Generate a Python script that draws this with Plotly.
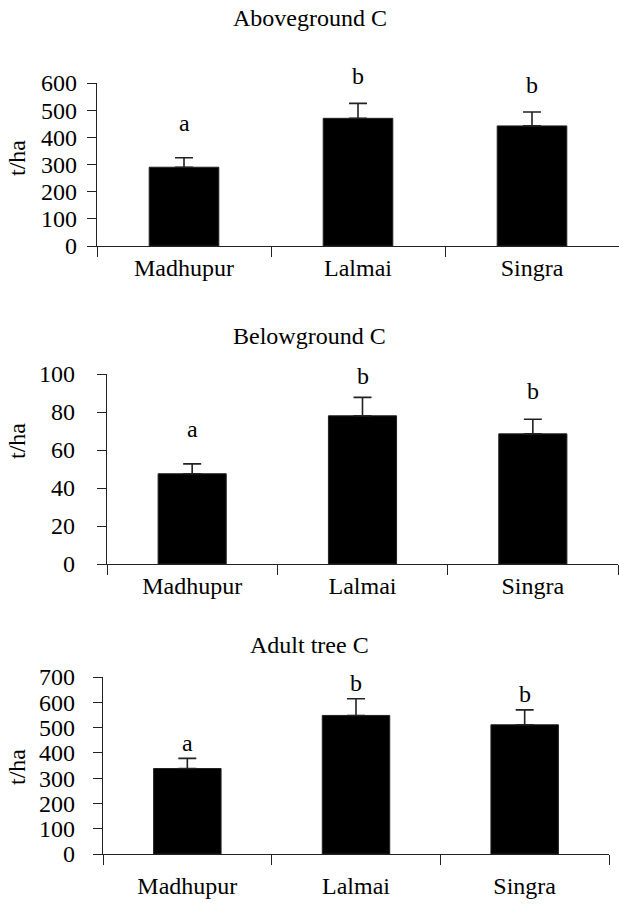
import plotly.graph_objects as go

# ---- data ----
sites = ["Madhupur", "Lalmai", "Singra"]

titles = ["Aboveground C", "Belowground C", "Adult tree C"]

above_mean = [290, 470, 442]
above_err = [35, 55, 51]
above_letters = ["a", "b", "b"]

below_mean = [47.5, 78, 68.5]
below_err = [5.2, 9.7, 7.7]
below_letters = ["a", "b", "b"]

adult_mean = [338, 548, 511]
adult_err = [40, 66, 59]
adult_letters = ["a", "b", "b"]

y_ranges = [[0, 600], [0, 100], [0, 700]]
y_dticks = [100, 20, 100]
y_label = "t/ha"

# ---- layout geometry (pixels) ----
W, H = 619, 911
FONT = "Liberation Serif"
FS = 24

panels = [
    dict(mean=above_mean, err=above_err, letters=above_letters,
         x0=97, x1=619, ybot=246, ytop=83, title_y=18, ytitle_y=158,
         gaps=[26, 18, 18], ystand=5, xstand=0),
    dict(mean=below_mean, err=below_err, letters=below_letters,
         x0=107, x1=618, ybot=564, ytop=374, title_y=336, ytitle_y=441,
         gaps=[26, 12, 19], ystand=17, xstand=0),
    dict(mean=adult_mean, err=adult_err, letters=adult_letters,
         x0=103, x1=609, ybot=854, ytop=677, title_y=645, ytitle_y=767,
         gaps=[6, 7, 7], ystand=13, xstand=10),
]

fig = go.Figure()
annotations = []
layout = {}

for i, p in enumerate(panels):
    n = "" if i == 0 else str(i + 1)
    xa, ya = "x" + n, "y" + n
    fig.add_trace(go.Bar(
        x=sites, y=p["mean"], xaxis=xa, yaxis=ya, width=0.4,
        marker=dict(color="black", line=dict(color="#222", width=1)),
        error_y=dict(type="data", array=p["err"], arrayminus=[0] * len(sites),
                     symmetric=False, color="#222", thickness=1.6, width=9),
        showlegend=False, hoverinfo="skip",
    ))
    layout["xaxis" + n] = dict(
        domain=[p["x0"] / W, min(p["x1"] / W, 1.0)], anchor=ya,
        type="category", range=[-0.5, 2.5], tickson="boundaries",
        ticks="outside", ticklen=10, tickwidth=1.3, tickcolor="#222",
        showline=True, linecolor="#222", linewidth=1.3, showgrid=False,
        zeroline=False, ticklabelstandoff=p["xstand"], automargin=False,
        tickfont=dict(family=FONT, size=FS, color="black"),
    )
    layout["yaxis" + n] = dict(
        domain=[(H - p["ybot"]) / H, (H - p["ytop"]) / H], anchor=xa,
        range=y_ranges[i], dtick=y_dticks[i], ticks="outside", ticklen=9,
        tickwidth=1.3, tickcolor="#222", showline=True, linecolor="#222",
        linewidth=1.3, showgrid=False, zeroline=False, automargin=False,
        ticklabelstandoff=p["ystand"],
        tickfont=dict(family=FONT, size=FS, color="black"),
    )
    annotations.append(dict(
        text=titles[i], xref="paper", yref="paper", x=309.5 / W,
        y=(H - p["title_y"]) / H, xanchor="center", yanchor="middle",
        showarrow=False, font=dict(family=FONT, size=FS, color="black")))
    annotations.append(dict(
        text=y_label, xref="paper", yref="paper", x=17 / W,
        y=(H - p["ytitle_y"]) / H, xanchor="center", yanchor="middle",
        textangle=-90, showarrow=False,
        font=dict(family=FONT, size=FS, color="black")))
    for j, s in enumerate(sites):
        annotations.append(dict(
            text=p["letters"][j], x=s, y=p["mean"][j] + p["err"][j],
            xref=xa, yref=ya, xanchor="center", yanchor="bottom",
            yshift=p["gaps"][j] - 6, showarrow=False,
            font=dict(family=FONT, size=FS, color="black")))

fig.update_layout(
    template="none",
    width=W, height=H, margin=dict(l=0, r=0, t=0, b=0, autoexpand=False),
    paper_bgcolor="white", plot_bgcolor="white",
    font=dict(family=FONT, size=FS, color="black"),
    annotations=annotations, **layout,
)

fig.write_html("out.html")
